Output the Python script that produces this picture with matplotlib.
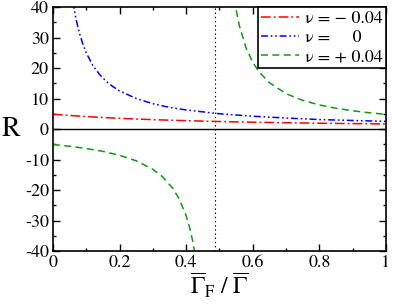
import matplotlib
matplotlib.use("Agg")
import matplotlib.pyplot as plt

plt.rcParams["font.family"] = ["STIXGeneral", "Liberation Serif", "DejaVu Serif"]
plt.rcParams["mathtext.fontset"] = "stix"
plt.rcParams["lines.scale_dashes"] = False

# values
x_red = [0.0, 0.1, 0.2, 0.3, 0.4, 0.5, 0.6, 0.7, 0.8, 0.9, 1.0]
r_red = [4.85, 4.07, 3.50, 3.07, 2.73, 2.46, 2.24, 2.06, 1.90, 1.77, 1.65]

x_blue = [0.06, 0.0625, 0.07, 0.08, 0.09, 0.10, 0.12, 0.14, 0.16, 0.18, 0.20,
          0.25, 0.30, 0.35, 0.40, 0.50, 0.60, 0.70, 0.80, 0.90, 1.0]
r_blue = [41.7, 40.0, 35.7, 31.3, 27.8, 25.0, 20.8, 17.9, 15.6, 13.9, 12.5,
          10.0, 8.3, 7.1, 6.25, 5.0, 4.2, 3.6, 3.1, 2.8, 2.5]

x_green_lo = [0.0, 0.05, 0.10, 0.15, 0.20, 0.25, 0.30, 0.33, 0.36, 0.38,
              0.40, 0.41, 0.42, 0.43]
r_green_lo = [-5.07, -5.65, -6.38, -7.33, -8.61, -10.42, -13.21, -15.73,
              -19.45, -23.08, -28.39, -32.08, -36.87, -43.3]
x_green_hi = [0.54, 0.55, 0.56, 0.58, 0.60, 0.62, 0.65, 0.70, 0.75, 0.80,
              0.85, 0.90, 0.95, 1.0]
r_green_hi = [46.6, 39.2, 33.8, 26.6, 21.9, 18.6, 15.2, 11.6, 9.39, 7.89,
              6.80, 5.98, 5.33, 4.81]

x_pole = 0.488

fig = plt.figure(figsize=(3.95, 3.05), dpi=100)
ax = fig.add_axes([0.134, 0.177, 0.843, 0.80])

lw = 1.1
ax.plot(x_red, r_red, color="#ff0000", lw=lw, dashes=(7, 2.2, 1.3, 2.2),
        label="ν = − 0.04")
ax.plot(x_blue, r_blue, color="#0000ff", lw=lw,
        dashes=(5, 2, 1.2, 2, 1.2, 2), label="ν =     0")
ax.plot(x_green_lo, r_green_lo, color="#119a11", lw=lw, dashes=(5, 3.2),
        label="ν = + 0.04")
ax.plot(x_green_hi, r_green_hi, color="#119a11", lw=lw, dashes=(5, 3.2))

ax.axhline(0, color="black", lw=1.0, zorder=1)
ax.axvline(x_pole, color="black", lw=0.8, linestyle=(0, (1, 2)), zorder=1)

ax.set_xlim(0, 1)
ax.set_ylim(-40, 40)
ax.set_xticks([0, 0.2, 0.4, 0.6, 0.8, 1.0])
ax.set_xticklabels(["0", "0.2", "0.4", "0.6", "0.8", "1"])
ax.set_xticks([0.1, 0.3, 0.5, 0.7, 0.9], minor=True)
ax.set_yticks(range(-40, 41, 10))
ax.set_yticklabels([str(v) for v in range(-40, 41, 10)])
ax.set_yticks(range(-35, 40, 10), minor=True)
ax.tick_params(which="both", direction="in", top=True, right=True,
               labelsize=13, width=1.0, pad=3)
ax.tick_params(which="major", length=5)
ax.tick_params(which="minor", length=2.5)
for s in ax.spines.values():
    s.set_linewidth(1.2)

ax.set_xlabel(r"$\overline{\Gamma}_{\mathrm{F}}\ /\ \overline{\Gamma}$",
              fontsize=17, labelpad=0)
ax.set_ylabel("R", fontsize=20, rotation=0, va="center", labelpad=10)

leg = ax.legend(loc="upper right", fontsize=13, frameon=True, fancybox=False,
                borderaxespad=0, handlelength=2.1, handletextpad=0.3,
                labelspacing=0.12, borderpad=0.2)
leg.get_frame().set_edgecolor("black")
leg.get_frame().set_linewidth(1.2)
leg.get_frame().set_alpha(1)

fig.savefig("out.png", dpi=100)
